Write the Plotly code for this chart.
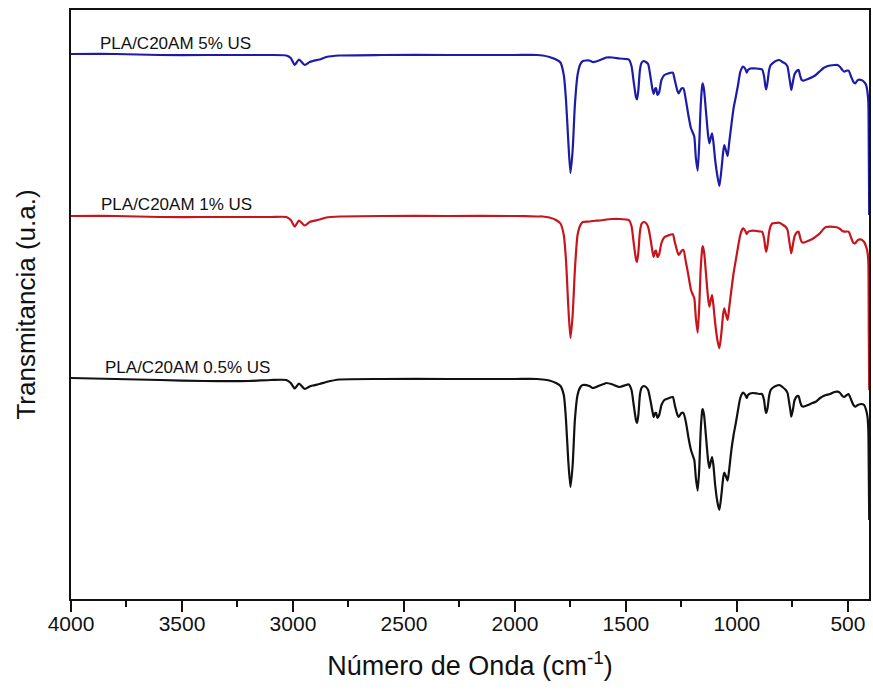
import plotly.graph_objects as go

# Wavenumber (cm-1), shared by all three spectra
wavenumber = [
    4000, 3800, 3600, 3400, 3200, 3100, 3030, 3010, 2992, 2973, 2947, 2925, 2910, 2880, 2850, 2790,
    2600, 2300, 2000, 1900, 1875, 1845, 1815, 1795, 1780, 1770, 1760, 1750, 1740, 1730, 1718, 1705,
    1694, 1665, 1650, 1634, 1600, 1589, 1560, 1529, 1500, 1487, 1475, 1465, 1455, 1450, 1444, 1437,
    1430, 1420, 1410, 1400, 1390, 1380, 1375, 1368, 1364, 1358, 1350, 1340, 1327, 1310, 1289, 1280,
    1268, 1262, 1250, 1241, 1230, 1218, 1207, 1198, 1192, 1185, 1177, 1170, 1163, 1156, 1154, 1148,
    1140, 1130, 1124, 1118, 1112, 1106, 1098, 1088, 1079, 1070, 1062, 1057, 1050, 1042, 1035, 1025,
    1015, 1005, 995, 985, 975, 971, 962, 956, 950, 940, 929, 910, 895, 887, 878, 872,
    868, 862, 855, 848, 840, 825, 809, 795, 780, 772, 765, 758, 755, 748, 740, 728,
    722, 715, 708, 700, 680, 660, 645, 625, 610, 599, 580, 560, 547, 535, 525, 517,
    505, 497, 485, 475, 467, 455, 440, 427, 418, 412, 408, 406, 404,
]

# Transmittance (arbitrary units, spectra offset vertically)
t_05 = [
    221, 220, 219, 218, 218, 219, 219, 216, 210.5, 215.5, 210, 212.5, 213.5, 215, 217, 219.5,
    220, 220, 220, 220, 219.5, 218.5, 216, 213, 204, 179, 139, 112, 134, 179, 204, 212,
    214, 213, 211, 212, 215, 216, 214.5, 212, 214, 214.5, 209, 194, 179, 176, 184, 204,
    211, 213, 212, 209, 199, 187, 182, 186, 186, 181, 184, 194, 199, 200.5, 202, 194,
    184, 182, 186, 186, 177, 161, 149, 143, 139, 121, 108.3, 129, 169, 189, 190, 184,
    164, 139, 131, 137, 142, 134, 114, 97, 89, 104, 121, 126.3, 123, 118.3, 129, 149,
    164, 176, 189, 201, 206, 206.3, 204, 201, 204, 205.5, 206, 205.5, 205, 205, 199, 189,
    186, 191, 203, 209, 211, 213, 214, 212, 209, 206, 197, 187, 182.3, 189, 199, 203,
    203, 197, 193, 192.3, 194, 196, 197.3, 201, 203, 204, 205, 207, 207.3, 206, 203, 202,
    204, 205, 199, 194, 192.3, 194, 195, 194, 189, 182.3, 169, 129, 79,
]

t_1 = [
    383, 383, 382, 382, 382, 382, 382, 379, 372.5, 378.5, 373.5, 377, 378, 379.5, 381.5, 382.5,
    383, 383, 383, 382.5, 382.5, 381.5, 379, 375.5, 364, 339, 294, 261, 284, 329, 364, 374,
    377, 377.5, 378, 378.3, 379, 379.5, 380, 380, 379.5, 379, 373, 356, 340, 337, 347, 367,
    375, 377, 376, 372, 361, 347, 342, 348, 348.3, 342, 345, 356, 361.7, 363.5, 364.7, 357,
    347, 344, 348, 349, 337, 323, 309, 304, 300.7, 281, 266.3, 291, 331, 351, 353, 347,
    327, 301, 292.3, 299, 304, 294, 276, 259, 250.7, 266, 285, 290.7, 285, 279, 291, 309,
    326, 339, 352, 364, 370, 370.7, 368, 365, 367, 368, 368.3, 368, 367.5, 367.3, 361, 351,
    347.3, 354, 367, 373, 375.7, 376, 376.3, 374.5, 372, 369, 359, 349, 345.7, 354, 363, 367,
    367.3, 361, 357, 356.3, 358, 360, 362.3, 366, 370, 372, 372.3, 372, 371.5, 370, 368, 367.3,
    367.5, 367.3, 361, 356, 355.7, 359, 359.5, 357, 352.3, 347, 337, 269, 209,
]

t_5 = [
    545, 545, 544, 544, 544, 544, 543.5, 541, 534, 539.5, 534, 537, 538, 539.5, 542, 543.5,
    544, 544, 544, 544, 543.5, 542, 539.5, 536.5, 524, 499, 459, 426, 449, 494, 524, 535,
    538, 538.5, 537, 537.5, 540.5, 541.5, 541.5, 540.5, 540, 539.5, 533, 517, 502, 499.5, 509, 529,
    536, 538, 537, 535, 523, 509, 505, 510.5, 510.7, 504, 507, 519, 524, 525.5, 526.3, 519,
    508, 505.7, 510.5, 510.7, 499, 483, 470.7, 466, 462.3, 441, 428.3, 454, 494, 514, 515.7, 509,
    489, 464, 455.7, 461, 465.7, 457, 439, 423, 413, 429, 447, 454, 449, 443, 456, 474,
    491, 502.3, 514, 527, 532, 532.3, 530, 526.3, 529, 530.5, 530.7, 530.5, 530, 529.7, 523, 513,
    509.7, 517, 529, 534, 535.7, 538, 539, 537, 535, 532.3, 523, 513, 509, 517, 525, 528.5,
    529, 523, 519, 518.3, 520, 522, 524, 528, 531, 532.3, 533.5, 534, 534, 532, 529, 527.3,
    528.3, 528.3, 522, 517, 515.7, 519, 519, 517, 514, 507, 497, 449, 384,
]

series_names = ["PLA/C20AM 0.5% US", "PLA/C20AM 1% US", "PLA/C20AM 5% US"]
series_colors = ["#111111", "#c8141c", "#1c1ca8"]
series_values = [t_05, t_1, t_5]

# label anchors (wavenumber, transmittance)
label_x = [3856, 3874, 3878]
label_y = [232, 395, 556]

FONT = "Liberation Sans, Arial, sans-serif"

fig = go.Figure()
for name, col, vals in zip(series_names, series_colors, series_values):
    fig.add_trace(go.Scatter(
        x=wavenumber, y=vals, mode="lines", name=name,
        line=dict(color=col, width=2.2, shape="spline", smoothing=0.6),
        showlegend=False,
    ))

for name, lx, ly in zip(series_names, label_x, label_y):
    fig.add_annotation(x=lx, y=ly, text=name, showarrow=False, xanchor="left",
                       yanchor="middle", font=dict(family=FONT, size=17, color="#111111"))

fig.update_layout(
    width=873, height=690,
    margin=dict(l=71, r=2, t=10, b=91),
    paper_bgcolor="white", plot_bgcolor="white",
    font=dict(family=FONT, color="#111111"),
    xaxis=dict(
        range=[4000, 405], dtick=500, tick0=0,
        ticks="outside", ticklen=11, tickwidth=2, tickcolor="#111111",
        showline=True, linewidth=2, linecolor="#111111", mirror=True,
        showgrid=False, zeroline=False,
        ticklabelstandoff=-6,
        tickfont=dict(family=FONT, size=21, color="#111111"),
        minor=dict(dtick=250, ticks="outside", ticklen=6, tickwidth=2, tickcolor="#111111", showgrid=False),
        title=dict(text="Número de Onda (cm<sup>-1</sup>)", font=dict(family=FONT, size=27, color="#111111"),
                   standoff=22),
    ),
    yaxis=dict(
        range=[0, 589], showticklabels=False, ticks="",
        showline=True, linewidth=2, linecolor="#111111", mirror=True,
        showgrid=False, zeroline=False,
        title=dict(text="Transmitancia (u.a.)", font=dict(family=FONT, size=26, color="#111111"),
                   standoff=26),
    ),
)

fig.write_html("out.html")
